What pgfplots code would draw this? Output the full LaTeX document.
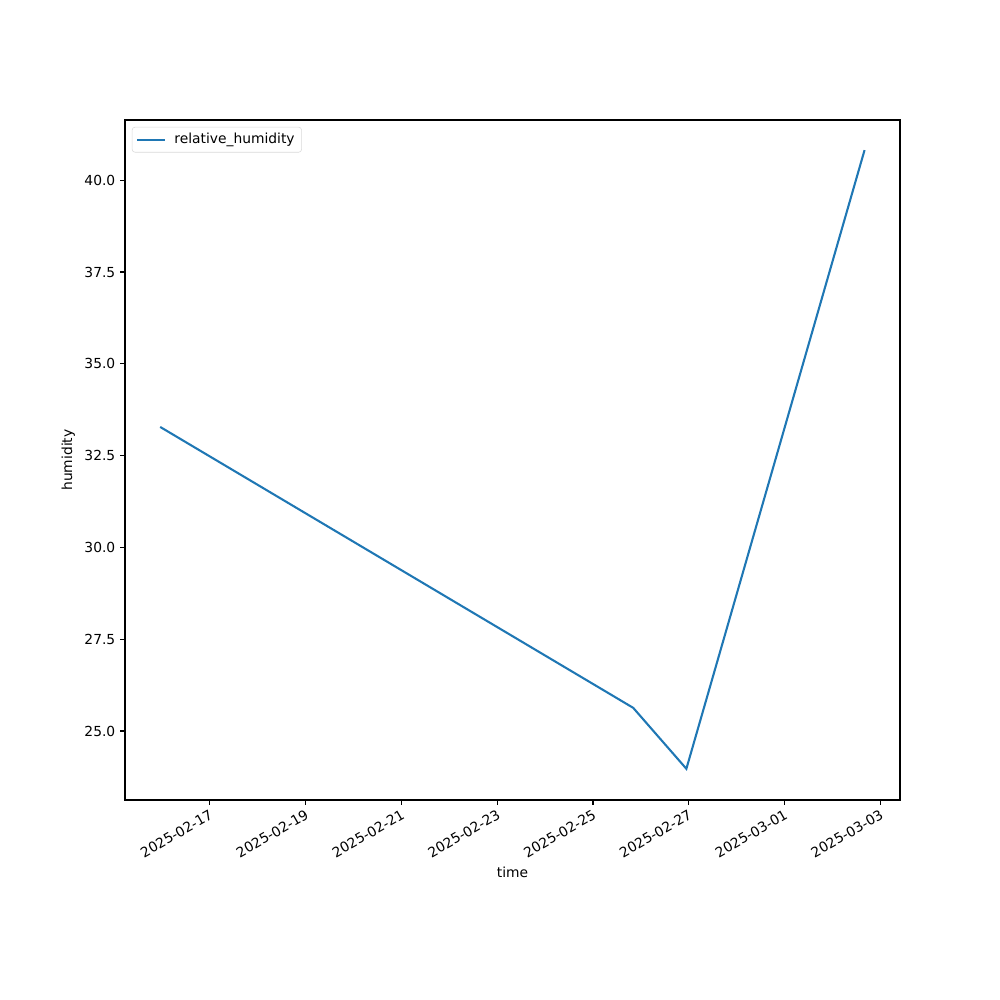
\documentclass[border=0pt]{standalone}
\usepackage{pgfplots}
\pgfplotsset{compat=1.18}
\usepackage{fontspec}
\setmainfont{DejaVu Sans}
\definecolor{tabblue}{HTML}{1F77B4}
\begin{document}
\begin{tikzpicture}
\begin{axis}[
  scale only axis,
  width=7.75in, height=6.8in,
  xmin=-1.77, xmax=14.41,
  ymin=23.12, ymax=41.64,
  xtick={0,2,4,6,8,10,12,14},
  xticklabels={2025-02-17,2025-02-19,2025-02-21,2025-02-23,2025-02-25,2025-02-27,2025-03-01,2025-03-03},
  xticklabel style={rotate=30, anchor=north east, font=\fontsize{10}{12}\selectfont, inner sep=2pt},
  ytick={25,27.5,30,32.5,35,37.5,40},
  yticklabel style={font=\fontsize{10}{12}\selectfont},
  /pgf/number format/assume math mode=true,
  yticklabel={\pgfmathprintnumber[fixed,precision=1,zerofill]{\tick}},
  tick align=outside,
  major tick length=3.5pt,
  tick style={black, line width=0.8pt},
  xtick pos=bottom, ytick pos=left,
  axis line style={black, line width=0.8pt},
  xlabel={time}, ylabel={humidity},
  label style={font=\fontsize{10}{12}\selectfont},
  legend style={at={(0,1)}, anchor=north west, xshift=5pt, yshift=-5pt,
    draw=black!15, rounded corners=2pt, font=\fontsize{10}{12}\selectfont,
    inner xsep=3pt, inner ysep=2.5pt},
  legend cell align=left,
  legend image code/.code={\draw[#1] (0pt,0pt) -- (20pt,0pt);},
  legend style={/tikz/every even column/.append style={column sep=0pt}},
]
\addplot[color=tabblue, line width=1.5pt] coordinates {
  (-1.035,33.28) (8.84,25.63) (9.95,23.97) (13.67,40.82)
};
\addlegendentry{\hspace{4pt}relative\_humidity}
\end{axis}
\useasboundingbox ([xshift=-1.25in,yshift=-2.0in]current axis.south west) rectangle ([xshift=1.0in,yshift=1.2in]current axis.north east);
\end{tikzpicture}
\end{document}
